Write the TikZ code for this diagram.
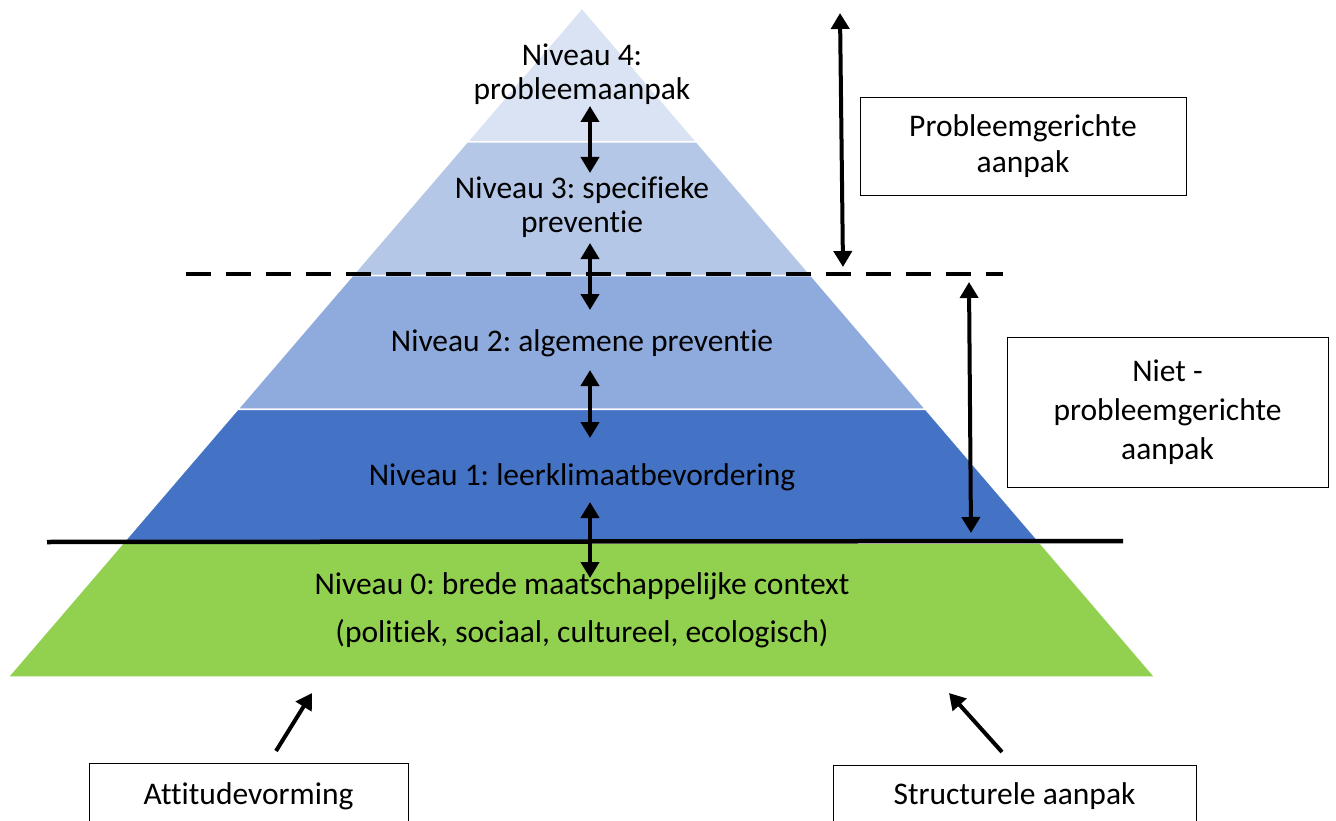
\documentclass[tikz,border=0pt]{standalone}
\usepackage{fontspec}
\setmainfont{Carlito}[Ligatures=NoCommon]
\usetikzlibrary{arrows.meta,positioning,calc}
\frenchspacing

\definecolor{lvlfour}{HTML}{DAE3F3}
\definecolor{lvlthree}{HTML}{B4C7E7}
\definecolor{lvltwo}{HTML}{8FAADC}
\definecolor{lvlone}{HTML}{4472C4}
\definecolor{lvlzero}{HTML}{92D050}

\begin{document}
\begin{tikzpicture}[
    x=1pt, y=-1pt,
    band/.style={
    draw=white,
    line width=1.5pt},
    lbl/.style={
    align=center,
    inner sep=0pt,
    font=\fontsize{31.5}{34}\selectfont},
    box/.style={
    draw=black,
    line width=0.8pt,
    fill=white,
    align=center,
    inner sep=0pt,
    font=\fontsize{31.5}{36}\selectfont},
    dblarrow/.style={{Triangle[length=16pt,width=18pt]}-{Triangle[length=16pt,width=18pt]},line width=4pt},
    myarrow/.style={-{Triangle[length=16pt,width=18pt]},line width=4pt}
    ]

    \useasboundingbox (0,0) rectangle (1336,821);

    % pyramid
    \coordinate (apex) at (582,8);
    \coordinate (bl) at (8,677);
    \coordinate (br) at (1155,677);
    \foreach \col/\a/\b in {lvlfour/0/0.2, lvlthree/0.2/0.4, lvltwo/0.4/0.6, lvlone/0.6/0.8, lvlzero/0.8/1}
        \draw[band, fill=\col] ($(apex)!\a!(bl)$) -- ($(apex)!\b!(bl)$) -- ($(apex)!\b!(br)$) -- ($(apex)!\a!(br)$) -- cycle;

    \node[lbl] (n4) at (582,74) {Niveau 4:\\probleemaanpak};
    \node[lbl] (n3) at (582,207) {Niveau 3: specifieke\\preventie};
    \node[lbl] (n2) at (582,343) {Niveau 2: algemene preventie};
    \node[lbl] (n1) at (582,477) {Niveau 1: leerklimaatbevordering};
    \node[lbl] (n0) at (582,610) {Niveau 0: brede maatschappelijke context\\[14pt](politiek, sociaal, cultureel, ecologisch)};

    % split lines
    \coordinate (dl) at (186,274);
    \coordinate (dr) at (1003,274);
    \draw[line width=4pt, dash pattern=on 25pt off 15pt] (dl) -- (dr);
    \coordinate (sl) at (47,542);
    \coordinate (sr) at (1123,541);
    \draw[line width=4.5pt] (sl) -- (sr);

    % arrows between levels
    \coordinate (u4) at (590,106);
    \coordinate (d4) at (590,173);
    \coordinate (u3) at (590,243);
    \coordinate (d3) at (590,310);
    \coordinate (u2) at (590,370);
    \coordinate (d2) at (590,438);
    \coordinate (u1) at (590,502);
    \coordinate (d1) at (590,578);
    \draw[dblarrow] (u4) -- (d4);
    \draw[dblarrow] (u3) -- (d3);
    \draw[dblarrow] (u2) -- (d2);
    \draw[dblarrow] (u1) -- (d1);

    % right side
    \node[box, minimum width=326pt, minimum height=98pt] (pg) at (1023,146) {Probleemgerichte\\aanpak};
    \node[box, minimum width=321pt, minimum height=150pt, font=\fontsize{31.5}{39}\selectfont] (npg) at (1167.5,412) {Niet -\\probleemgerichte\\aanpak};
    \coordinate (pgt) at (840,13);
    \coordinate (pgb) at (843,267);
    \coordinate (npgt) at (969,282);
    \coordinate (npgb) at (971,533);
    \draw[dblarrow] (pgt) -- (pgb);
    \draw[dblarrow] (npgt) -- (npgb);

    % bottom
    \node[box, minimum width=319pt, minimum height=66pt] (att) at (248.5,796) {Attitudevorming};
    \node[box, minimum width=363pt, minimum height=62pt] (str) at (1014.5,796) {Structurele aanpak};
    \coordinate (atttail) at (276,751);
    \coordinate (atttip) at (312,693);
    \coordinate (strtail) at (1002,752);
    \coordinate (strtip) at (949,693);
    \draw[myarrow] (atttail) -- (atttip);
    \draw[myarrow] (strtail) -- (strtip);
\end{tikzpicture}
\end{document}
